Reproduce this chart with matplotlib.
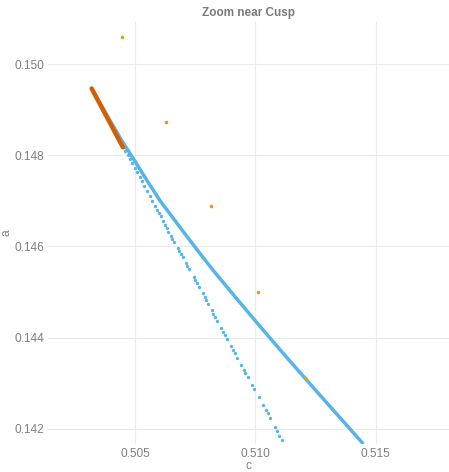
import matplotlib
matplotlib.use("Agg")
from matplotlib import pyplot as plt

plt.rcParams['font.family'] = ['Liberation Sans', 'DejaVu Sans']

# main branch near the cusp (solid)
branch_c = [0.503201, 0.503961, 0.504447, 0.504979, 0.505499, 0.506039, 0.506974,
            0.507825, 0.508262, 0.509300, 0.510352, 0.511432, 0.512533, 0.513642,
            0.514494]
branch_a = [0.149465, 0.148768, 0.148328, 0.147888, 0.147448, 0.147008, 0.146348,
            0.145761, 0.145468, 0.144808, 0.144148, 0.143488, 0.142828, 0.142168,
            0.141662]

# second branch, sparse samples
sample_c = [0.504522, 0.504609, 0.504701, 0.504792, 0.504880, 0.504992, 0.505083,
            0.505195, 0.505283, 0.505395, 0.505507, 0.505619, 0.505731, 0.505831,
            0.505914, 0.505997, 0.506080, 0.506176, 0.506247, 0.506317, 0.506384,
            0.506496, 0.506550, 0.506620, 0.506774, 0.506828, 0.506911, 0.506982,
            0.507107, 0.507173, 0.507231, 0.507439, 0.507505, 0.507576, 0.507659,
            0.507813, 0.507896, 0.507950, 0.508033, 0.508187, 0.508253, 0.508324,
            0.508407, 0.508586, 0.508656, 0.508727, 0.508823, 0.508989, 0.509084,
            0.509155, 0.509238, 0.509417, 0.509517, 0.509583, 0.509683, 0.509861,
            0.509957, 0.510152, 0.510331, 0.510431, 0.510514, 0.510609, 0.510805,
            0.510888, 0.510996, 0.511108]
sample_a = [0.148174, 0.148086, 0.147998, 0.147910, 0.147822, 0.147712, 0.147624,
            0.147514, 0.147426, 0.147316, 0.147206, 0.147096, 0.146986, 0.146883,
            0.146803, 0.146737, 0.146663, 0.146546, 0.146473, 0.146399, 0.146326,
            0.146223, 0.146165, 0.146106, 0.145959, 0.145908, 0.145835, 0.145776,
            0.145637, 0.145563, 0.145505, 0.145321, 0.145255, 0.145189, 0.145116,
            0.144969, 0.144881, 0.144824, 0.144742, 0.144595, 0.144515, 0.144456,
            0.144361, 0.144207, 0.144126, 0.144060, 0.143972, 0.143811, 0.143723,
            0.143657, 0.143561, 0.143393, 0.143297, 0.143231, 0.143136, 0.142953,
            0.142865, 0.142696, 0.142513, 0.142410, 0.142337, 0.142227, 0.142036,
            0.141948, 0.141838, 0.141743]

# cusp segment
cusp_c = [0.503203, 0.504502]
cusp_a = [0.149465, 0.148174]

# isolated points
pts_c = [0.504447, 0.506288, 0.508158, 0.510098, 0.512064]
pts_a = [0.150587, 0.148739, 0.146876, 0.145006, 0.143121]

xticks = [0.505, 0.510, 0.515]
yticks = [0.142, 0.144, 0.146, 0.148, 0.150]

fig = plt.figure(figsize=(4.49, 4.72), dpi=100)
ax = fig.add_axes([48 / 449, 1 - 444 / 472, 401 / 449, 422 / 472])

ax.plot(branch_c, branch_a, color="#56B4E9", lw=2.5, solid_capstyle="butt",
        solid_joinstyle="round", zorder=2)
ax.plot(sample_c, sample_a, linestyle="none", marker="o", ms=2.4,
        color="#56B4E9", mec="none", zorder=3)
ax.plot(cusp_c, cusp_a, color="#D55E00", lw=3.2, solid_capstyle="round", zorder=4)
ax.plot(pts_c, pts_a, linestyle="none", marker="o", ms=2.6,
        color="#E69F00", mec="none", zorder=5)

ax.set_xlim(0.50139, 0.51805)
ax.set_ylim(0.141663, 0.150924)
ax.set_xticks(xticks)
ax.set_xticklabels(["%.3f" % v for v in xticks])
ax.set_yticks(yticks)
ax.set_yticklabels(["%.3f" % v for v in yticks])

for s in ax.spines.values():
    s.set_visible(False)
ax.grid(True, color="#ebebeb", lw=0.8)
ax.set_axisbelow(True)
ax.tick_params(length=0, pad=3, labelsize=8.6, labelcolor="#808080")

ax.set_xlabel("c", fontsize=8.6, color="#808080", labelpad=0)
ax.set_ylabel("a", fontsize=8.6, color="#808080", labelpad=1)
ax.set_title("Zoom near Cusp", fontsize=8.5, fontweight="bold", color="#7a7a7a", pad=4)

fig.savefig("out.png", dpi=100)
